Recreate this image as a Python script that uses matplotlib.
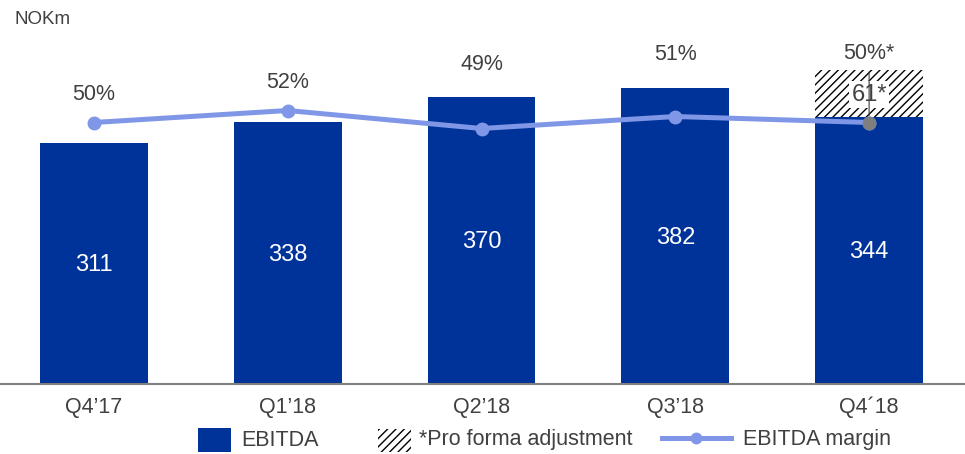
import matplotlib
matplotlib.use("Agg")
import matplotlib.pyplot as plt
from matplotlib.patches import Rectangle
from matplotlib.lines import Line2D

plt.rcParams['font.family'] = ['Liberation Sans', 'DejaVu Sans']
plt.rcParams['hatch.linewidth'] = 1.0

quarters = ["Q4\u201917", "Q1\u201918", "Q2\u201918", "Q3\u201918", "Q4\u00b418"]
ebitda = [311, 338, 370, 382, 344]
pro_forma = [0, 0, 0, 0, 61]
margin = [50, 52, 49, 51, 50]
margin_labels = ["50%", "52%", "49%", "51%", "50%*"]
legend_labels = ["EBITDA", "*Pro forma adjustment", "EBITDA margin"]

bar_color = "#003399"
line_color = "#7F97E6"
text_color = "#404040"
W, H = 965, 454

fig = plt.figure(figsize=(W / 100, H / 100), dpi=100)
ax = fig.add_axes([0, 1 - 384 / H, 1, 354 / H])
x = list(range(len(quarters)))
w = 0.557

ax.bar(x, ebitda, width=w, color=bar_color, zorder=2)
ax.bar(x, pro_forma, bottom=ebitda, width=w, color="white", edgecolor="black",
       hatch="////", linewidth=0, zorder=2)
ax.set_xlim(-94 / 194, 4 + 96 / 194)
ax.set_ylim(0, 354 / 0.775)

for xi, v in zip(x, ebitda):
    ax.text(xi, v / 2 - 2, str(v), ha="center", va="center", color="white", fontsize=17, zorder=5)

for s in ["top", "right", "left"]:
    ax.spines[s].set_visible(False)
ax.spines["bottom"].set_color("#808080")
ax.spines["bottom"].set_linewidth(1.5)
ax.set_yticks([])
ax.set_xticks(x)
ax.set_xticklabels(quarters, fontsize=15.5, color=text_color)
ax.tick_params(axis="x", length=0, pad=9)

ax2 = ax.twinx()
ax2.set_ylim(50 - 261.5 / 6, 50 - 261.5 / 6 + 354 / 6)
ax2.axis("off")
ax2.plot(x, margin, color=line_color, linewidth=3.6, marker="o", markersize=9,
         markerfacecolor=line_color, markeredgecolor=line_color, zorder=3)
ax2.plot([x[-1]], [margin[-1]], marker="o", markersize=9, color="#7F7F7F", zorder=4)

fig.canvas.draw()
for xi, m, lab, v, p in zip(x, margin, margin_labels, ebitda, pro_forma):
    mk = ax2.transData.transform((xi, m))[1]
    bt = ax.transData.transform((xi, v + p))[1]
    if p:
        ly = bt + 17
        ax2.annotate(lab, xy=(xi, m), xytext=(0, ly - mk), textcoords="offset pixels",
                     ha="center", va="center", fontsize=15.5, color=text_color,
                     arrowprops=dict(arrowstyle="-", color=text_color, lw=0.8,
                                     shrinkA=4, shrinkB=5), zorder=3.5)
        ax.text(xi, v + p / 2 - 1, f"{p}*", ha="center", va="center", color=text_color,
                fontsize=17, zorder=6, bbox=dict(facecolor="white", edgecolor="none", pad=1.5))
    else:
        ly = mk + 28 if mk >= bt else bt + 33
        ax2.annotate(lab, xy=(xi, m), xytext=(0, ly - mk), textcoords="offset pixels",
                     ha="center", va="center", fontsize=15.5, color=text_color)

fig.text(15 / W, 1 - 19 / H, "NOKm", fontsize=13.5, color=text_color, va="center", ha="left")

# legend drawn in a pixel-coordinate overlay
lg = fig.add_axes([0, 0, 1, 1], zorder=10)
lg.set_xlim(0, W)
lg.set_ylim(H, 0)
lg.axis("off")
cy = 440
lg.add_patch(Rectangle((198, 428), 33, 24, facecolor=bar_color, edgecolor="none"))
lg.text(241, cy, legend_labels[0], fontsize=15.5, color=text_color, va="center", ha="left")
lg.add_patch(Rectangle((378, 429), 33, 23, facecolor="white", edgecolor="black",
                       hatch="////", linewidth=0))
lg.text(419, cy, legend_labels[1], fontsize=15.5, color=text_color, va="center", ha="left")
lg.add_line(Line2D([662, 731], [438, 438], color=line_color, linewidth=3.6))
lg.add_line(Line2D([696], [438], color=line_color, marker="o", markersize=7.5))
lg.text(743, cy, legend_labels[2], fontsize=15.5, color=text_color, va="center", ha="left")

fig.savefig("out.png", dpi=100)
